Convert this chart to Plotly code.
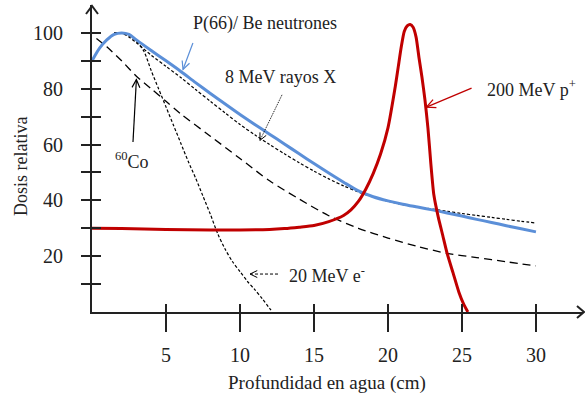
import math
import plotly.graph_objects as go

# ---------------- data ----------------
neutron_depth = [0, 0.5, 1, 1.5, 2, 2.5, 3, 4, 5, 6, 7, 8, 9, 10, 11, 12, 13, 14, 15, 16, 17,
                 18, 19, 20, 21, 22, 23, 24, 25, 26, 27, 28, 29, 30]
neutron_dose = [90, 94.5, 97.5, 99.5, 100, 99.5, 97.5, 93.7, 90, 86.2, 82.2, 78.3, 74.5, 70.8,
                67.2, 63.7, 60.2, 56.7, 53.2, 49.8, 46.5, 43.4, 41.3, 39.8, 38.6, 37.6, 36.6,
                35.5, 34.4, 33.2, 32.1, 30.9, 29.8, 28.7]

xray_depth = [1.5, 2, 2.5, 3, 4, 5, 6, 7, 8, 9, 10, 11, 12, 13, 14, 15, 16, 17, 18, 19, 20,
              21, 22, 23, 24, 25, 26, 27, 28, 29, 30]
xray_dose = [100, 100, 98.5, 96.5, 92, 88, 84, 79.7, 75.5, 71.3, 67.2, 63.5, 60, 56.7, 53.5,
             50.5, 47.7, 45.2, 43, 41.2, 39.7, 38.5, 37.6, 36.9, 36.1, 35.3, 34.6, 33.9, 33.2,
             32.5, 31.9]

co60_depth = [0.3, 1, 2, 3, 4, 5, 6, 8, 10, 12, 14, 16, 18, 20, 22, 24, 26, 28, 30]
co60_dose = [98, 95, 90, 84.5, 80, 75.5, 71, 63, 55, 47, 40.5, 34.5, 30, 26.5, 23.5, 21, 19.5,
             18, 16.5]

electron_depth = [1.5, 2, 2.5, 3, 3.5, 4, 4.5, 5, 5.5, 6, 6.5, 7, 7.5, 8, 8.5, 9, 9.5, 10,
                  10.5, 11, 11.5, 12, 12.2]
electron_dose = [100, 100, 99, 97, 93.5, 86.5, 80, 73.5, 67, 60.5, 54, 48, 41.5, 35, 28, 22.5,
                 18, 14.5, 11, 8, 4.8, 1.3, 0]

proton_depth = [0, 2, 5, 8, 10, 12, 13, 14, 15, 16, 17, 17.5, 18, 18.5, 19, 19.5, 20, 20.5,
                20.7, 20.9, 21.1, 21.3, 21.5, 21.7, 21.9, 22.1, 22.3, 22.5, 22.7, 22.9, 23.1,
                23.4, 23.7, 24.0, 24.4, 24.8, 25.1, 25.4]
proton_dose = [30, 29.9, 29.6, 29.4, 29.4, 29.6, 29.9, 30.4, 31, 32.4, 34.6, 36.6, 39.6, 44,
               49.6, 56.6, 66, 81, 88, 95, 100.5, 102.5, 103, 102, 98.5, 91, 84, 76, 66, 53, 42,
               34, 27.5, 21, 14, 7, 3, 0]

x_ticks = [5, 10, 15, 20, 25, 30]
y_major = [20, 40, 60, 80, 100]
y_minor = [10, 30, 50, 70, 90]

# ---------------- geometry ----------------
W, H = 585, 397
ML, MR, MT, MB = 92, 2, 5, 85
XMAX, YMAX = 33.18, 110
PW, PH = W - ML - MR, H - MT - MB
SX, SY = PW / XMAX, PH / YMAX  # px per unit

FONT = "Liberation Serif, Times New Roman, serif"
BLUE = "#5b8fd8"
RED = "#c00000"
INK = "#222"

fig = go.Figure()

fig.add_trace(go.Scatter(x=co60_depth, y=co60_dose, mode="lines",
                         line=dict(color="black", width=1.3, dash="8px,5px", shape="spline", smoothing=0.8),
                         hoverinfo="skip", showlegend=False))
fig.add_trace(go.Scatter(x=electron_depth, y=electron_dose, mode="lines",
                         line=dict(color="black", width=1.2, dash="3px,2px", shape="spline", smoothing=0.8),
                         hoverinfo="skip", showlegend=False))
fig.add_trace(go.Scatter(x=xray_depth, y=xray_dose, mode="lines",
                         line=dict(color="black", width=1.2, dash="3px,2px", shape="spline", smoothing=0.8),
                         hoverinfo="skip", showlegend=False))
fig.add_trace(go.Scatter(x=neutron_depth, y=neutron_dose, mode="lines",
                         line=dict(color=BLUE, width=3, shape="spline", smoothing=0.8),
                         hoverinfo="skip", showlegend=False))
fig.add_trace(go.Scatter(x=proton_depth, y=proton_dose, mode="lines",
                         line=dict(color=RED, width=3, shape="spline", smoothing=0.6),
                         hoverinfo="skip", showlegend=False))
# dummy trace for overlay axes (ticks crossing the axis lines)
fig.add_trace(go.Scatter(x=[None], y=[None], xaxis="x2", yaxis="y2", mode="lines",
                         hoverinfo="skip", showlegend=False))

shapes = []


def arrow(x0, y0, x1, y1, color, width, dash="solid", head=8, spread=0.45):
    """line from tail (x0,y0) to tip (x1,y1) in data units with open chevron head"""
    shapes.append(dict(type="line", xref="x", yref="y", x0=x0, y0=y0, x1=x1, y1=y1,
                       line=dict(color=color, width=width, dash=dash)))
    dx, dy = (x0 - x1) * SX, (y0 - y1) * SY
    L = (dx ** 2 + dy ** 2) ** 0.5
    ux, uy = dx / L, dy / L
    pts = []
    for s in (spread, -spread):
        c, sn = math.cos(s), math.sin(s)
        rx, ry = ux * c - uy * sn, ux * sn + uy * c
        pts.append((x1 + rx * head / SX, y1 + ry * head / SY))
    path = f"M {pts[0][0]},{pts[0][1]} L {x1},{y1} L {pts[1][0]},{pts[1][1]}"
    shapes.append(dict(type="path", xref="x", yref="y", path=path,
                       line=dict(color=color, width=width)))


arrow(6.82, 96.4, 6.15, 86.9, BLUE, 1.2, head=9)
arrow(12.84, 77.8, 11.35, 61.5, "black", 1.0, dash="1px,1px", head=8)
arrow(2.77, 60.9, 3.0, 83.3, "black", 1.2, head=9)
arrow(12.57, 13.6, 10.68, 13.6, "black", 1.0, dash="3px,2px", head=8)
arrow(25.65, 80.2, 22.6, 73.4, RED, 1.3, head=10)


def ppx(px):
    return (px - ML) / PW


def ppy(py):
    return (H - MB - py) / PH


# axis arrowheads
shapes.append(dict(type="path", xref="paper", yref="paper",
                   path=f"M {ppx(577)},{ppy(306)} L {ppx(584)},{ppy(312)} L {ppx(577)},{ppy(318)}",
                   line=dict(color=INK, width=2)))
shapes.append(dict(type="path", xref="paper", yref="paper",
                   path=f"M {ppx(86)},{ppy(14)} L {ppx(92)},{ppy(6)} L {ppx(98)},{ppy(14)}",
                   line=dict(color=INK, width=2)))

annotations = [
    dict(x=11.7, y=103.5, text="P(66)/ Be neutrones"),
    dict(x=12.77, y=84.3, text="8 MeV rayos X"),
    dict(x=2.67, y=54.3, text="<sup>60</sup>Co"),
    dict(x=15.85, y=13.6, text="20 MeV e<sup>-</sup>"),
    dict(x=29.7, y=80.0, text="200 MeV p<sup>+</sup>"),
]
for a in annotations:
    a.update(xref="x", yref="y", showarrow=False, xanchor="center", yanchor="middle",
             font=dict(family=FONT, size=18, color=INK))

annotations.append(dict(xref="paper", yref="paper", x=ppx(327), y=ppy(383),
                        text="Profundidad en agua (cm)", showarrow=False,
                        xanchor="center", yanchor="middle",
                        font=dict(family=FONT, size=19, color=INK)))
annotations.append(dict(xref="paper", yref="paper", x=ppx(21), y=ppy(167),
                        text="Dosis relativa", showarrow=False, textangle=-90,
                        xanchor="center", yanchor="middle",
                        font=dict(family=FONT, size=18, color=INK)))

fig.update_layout(
    width=W, height=H,
    margin=dict(l=ML, r=MR, t=MT, b=MB),
    paper_bgcolor="white", plot_bgcolor="white",
    shapes=shapes, annotations=annotations,
    xaxis=dict(range=[0, XMAX], tickvals=x_ticks, ticktext=[str(v) for v in x_ticks],
               ticks="outside", ticklen=18, tickwidth=2, tickcolor=INK,
               showline=True, linecolor=INK, linewidth=2, showgrid=False, zeroline=False,
               tickfont=dict(family=FONT, size=20, color=INK), ticklabelstandoff=6),
    yaxis=dict(range=[0, YMAX], tickvals=y_major, ticktext=[str(v) for v in y_major],
               ticks="outside", ticklen=9, tickwidth=2, tickcolor=INK,
               minor=dict(tickvals=y_minor, ticks="outside", ticklen=9, tickwidth=2,
                          tickcolor=INK, showgrid=False),
               showline=True, linecolor=INK, linewidth=2, showgrid=False, zeroline=False,
               tickfont=dict(family=FONT, size=20, color=INK), ticklabelstandoff=14),
    xaxis2=dict(range=[0, XMAX], overlaying="x", anchor="y", side="bottom", tickvals=x_ticks,
                ticks="inside", ticklen=8, tickwidth=2, tickcolor=INK,
                showticklabels=False, showline=False, showgrid=False, zeroline=False),
    yaxis2=dict(range=[0, YMAX], overlaying="y", anchor="x", side="left",
                tickvals=y_major + y_minor,
                ticks="inside", ticklen=9, tickwidth=2, tickcolor=INK,
                showticklabels=False, showline=False, showgrid=False, zeroline=False),
)

fig.write_html("out.html")
